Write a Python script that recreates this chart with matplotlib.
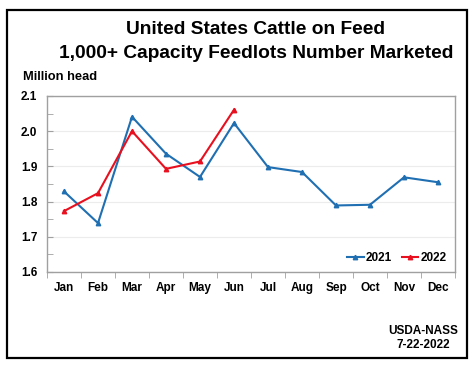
import matplotlib
matplotlib.use("Agg")
import matplotlib.pyplot as plt
from matplotlib.patches import Rectangle
from matplotlib.ticker import MultipleLocator, FixedLocator

months = ["Jan", "Feb", "Mar", "Apr", "May", "Jun", "Jul", "Aug", "Sep", "Oct", "Nov", "Dec"]
v2021 = [1.829, 1.739, 2.041, 1.936, 1.870, 2.023, 1.898, 1.884, 1.789, 1.791, 1.869, 1.855]
v2022 = [1.773, 1.824, 2.000, 1.893, 1.914, 2.061]
yticks = [1.6, 1.7, 1.8, 1.9, 2.0, 2.1]

plt.rcParams['font.family'] = ['Liberation Sans', 'DejaVu Sans']
W, H = 474, 366
fig = plt.figure(figsize=(W / 100, H / 100), dpi=100)

# outer frame
fig.patches.append(Rectangle((7 / W, 1 - 358 / H), (467 - 7) / W, (358 - 10) / H,
                             transform=fig.transFigure, fill=False, edgecolor='black', linewidth=1.6))

left, right, top, bottom = 47, 455, 96, 272
ax = fig.add_axes([left / W, 1 - bottom / H, (right - left) / W, (bottom - top) / H])

x = list(range(len(months)))
blue = '#1f6fb2'
red = '#e8101f'
ax.plot(x, v2021, color=blue, lw=1.5, marker='^', ms=3.2, label='2021')
ax.plot(x[:len(v2022)], v2022, color=red, lw=1.5, marker='^', ms=3.2, label='2022')

ax.set_xlim(-0.5, 11.5)
ax.set_ylim(1.6, 2.1)
ax.set_yticks(yticks)
ax.set_yticklabels([f"{t:.1f}" for t in yticks], fontsize=8.5, fontweight='bold')
ax.yaxis.set_minor_locator(MultipleLocator(0.05))
ax.set_xticks(x)
ax.set_xticklabels(months, fontsize=8.5, fontweight='bold')
ax.xaxis.set_minor_locator(FixedLocator([i - 0.5 for i in range(13)]))
ax.tick_params(axis='x', which='major', length=0, pad=7)
ax.tick_params(axis='x', which='minor', length=4, direction='out', color='#a0a0a0')
ax.tick_params(axis='y', which='major', length=4, direction='in', color='#a0a0a0', pad=7)
ax.tick_params(axis='y', which='minor', length=4, direction='in', color='#a0a0a0')
ax.grid(axis='y', which='major', color='#ececec', lw=0.8)
for s in ax.spines.values():
    s.set_color('#a0a0a0')
    s.set_linewidth(1.0)

leg = ax.legend(loc='lower right', frameon=False, ncol=2, fontsize=8.5, handlelength=1.4,
                handletextpad=0.2, columnspacing=0.8, borderaxespad=0.3)
for t in leg.get_texts():
    t.set_fontweight('bold')

fig.text(256 / W, 1 - 30 / H, "United States Cattle on Feed", ha='center', va='center',
         fontsize=13.8, fontweight='bold')
fig.text(256 / W, 1 - 53 / H, "1,000+ Capacity Feedlots Number Marketed", ha='center', va='center',
         fontsize=13.8, fontweight='bold')
fig.text(23 / W, 1 - 77 / H, "Million head", ha='left', va='center', fontsize=9.3, fontweight='bold')
fig.text(423 / W, 1 - 331 / H, "USDA-NASS", ha='center', va='center', fontsize=8.5, fontweight='bold')
fig.text(423 / W, 1 - 345 / H, "7-22-2022", ha='center', va='center', fontsize=8.5, fontweight='bold')

fig.savefig("out.png", dpi=100)
